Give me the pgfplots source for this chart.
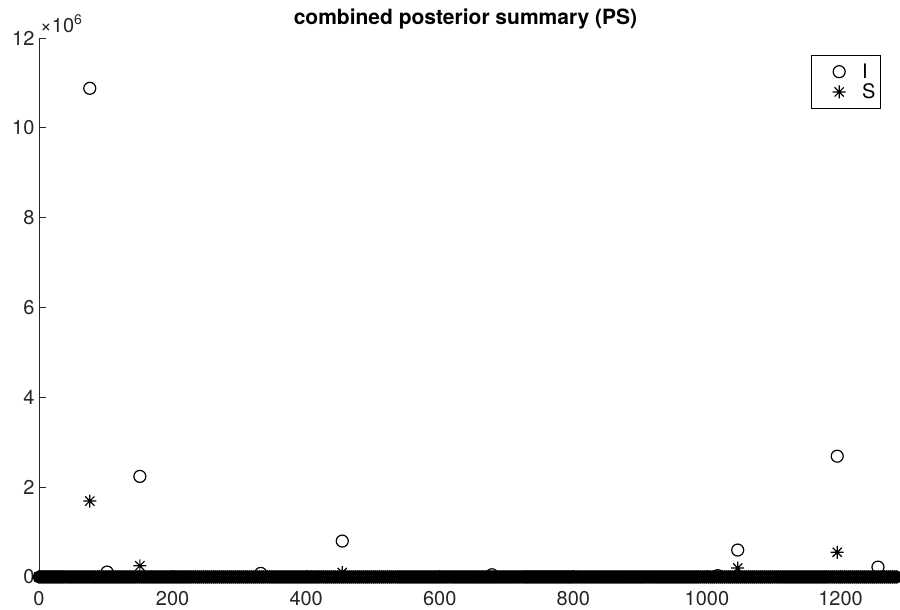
\documentclass[border=0pt]{standalone}
\usepackage{fontspec}
\setmainfont{TeX Gyre Heros}
\usepackage{pgfplots}
\usepackage{pgfplotstable}
\pgfplotsset{compat=1.18}
\definecolor{axgray}{rgb}{0.15,0.15,0.15}
\pgfdeclareplotmark{matast}{%
 \pgfpathmoveto{\pgfqpoint{-\pgfplotmarksize}{0pt}}\pgfpathlineto{\pgfqpoint{\pgfplotmarksize}{0pt}}%
 \pgfpathmoveto{\pgfqpoint{0pt}{-\pgfplotmarksize}}\pgfpathlineto{\pgfqpoint{0pt}{\pgfplotmarksize}}%
 \pgfpathmoveto{\pgfqpoint{-0.7071\pgfplotmarksize}{-0.7071\pgfplotmarksize}}\pgfpathlineto{\pgfqpoint{0.7071\pgfplotmarksize}{0.7071\pgfplotmarksize}}%
 \pgfpathmoveto{\pgfqpoint{-0.7071\pgfplotmarksize}{0.7071\pgfplotmarksize}}\pgfpathlineto{\pgfqpoint{0.7071\pgfplotmarksize}{-0.7071\pgfplotmarksize}}%
 \pgfusepathqstroke}
% near-zero values (dense band along the x axis)
\pgfplotstableread[row sep=\\]{
x y\\
0 0\\ 3 0\\ 6 0\\ 9 0\\ 12 0\\ 15 0\\ 18 0\\ 21 0\\ 24 0\\ 27 0\\ 30 0\\ 33 0\\ 36 0\\ 39 0\\ 42 0\\ 45 0\\ 48 0\\ 51 0\\ 54 0\\ 57 0\\
60 0\\ 63 0\\ 66 0\\ 69 0\\ 72 0\\ 75 0\\ 78 0\\ 81 0\\ 84 0\\ 87 0\\ 90 0\\ 93 0\\ 96 0\\ 99 0\\ 102 0\\ 105 0\\ 108 0\\ 111 0\\ 114 0\\ 117 0\\
120 0\\ 123 0\\ 126 0\\ 129 0\\ 132 0\\ 135 0\\ 138 0\\ 141 0\\ 144 0\\ 147 0\\ 150 0\\ 153 0\\ 156 0\\ 159 0\\ 162 0\\ 165 0\\ 168 0\\ 171 0\\ 174 0\\ 177 0\\
180 0\\ 183 0\\ 186 0\\ 189 0\\ 192 0\\ 195 0\\ 198 0\\ 201 0\\ 204 0\\ 207 0\\ 210 0\\ 213 0\\ 216 0\\ 219 0\\ 222 0\\ 225 0\\ 228 0\\ 231 0\\ 234 0\\ 237 0\\
240 0\\ 243 0\\ 246 0\\ 249 0\\ 252 0\\ 255 0\\ 258 0\\ 261 0\\ 264 0\\ 267 0\\ 270 0\\ 273 0\\ 276 0\\ 279 0\\ 282 0\\ 285 0\\ 288 0\\ 291 0\\ 294 0\\ 297 0\\
300 0\\ 303 0\\ 306 0\\ 309 0\\ 312 0\\ 315 0\\ 318 0\\ 321 0\\ 324 0\\ 327 0\\ 330 0\\ 333 0\\ 336 0\\ 339 0\\ 342 0\\ 345 0\\ 348 0\\ 351 0\\ 354 0\\ 357 0\\
360 0\\ 363 0\\ 366 0\\ 369 0\\ 372 0\\ 375 0\\ 378 0\\ 381 0\\ 384 0\\ 387 0\\ 390 0\\ 393 0\\ 396 0\\ 399 0\\ 402 0\\ 405 0\\ 408 0\\ 411 0\\ 414 0\\ 417 0\\
420 0\\ 423 0\\ 426 0\\ 429 0\\ 432 0\\ 435 0\\ 438 0\\ 441 0\\ 444 0\\ 447 0\\ 450 0\\ 453 0\\ 456 0\\ 459 0\\ 462 0\\ 465 0\\ 468 0\\ 471 0\\ 474 0\\ 477 0\\
480 0\\ 483 0\\ 486 0\\ 489 0\\ 492 0\\ 495 0\\ 498 0\\ 501 0\\ 504 0\\ 507 0\\ 510 0\\ 513 0\\ 516 0\\ 519 0\\ 522 0\\ 525 0\\ 528 0\\ 531 0\\ 534 0\\ 537 0\\
540 0\\ 543 0\\ 546 0\\ 549 0\\ 552 0\\ 555 0\\ 558 0\\ 561 0\\ 564 0\\ 567 0\\ 570 0\\ 573 0\\ 576 0\\ 579 0\\ 582 0\\ 585 0\\ 588 0\\ 591 0\\ 594 0\\ 597 0\\
600 0\\ 603 0\\ 606 0\\ 609 0\\ 612 0\\ 615 0\\ 618 0\\ 621 0\\ 624 0\\ 627 0\\ 630 0\\ 633 0\\ 636 0\\ 639 0\\ 642 0\\ 645 0\\ 648 0\\ 651 0\\ 654 0\\ 657 0\\
660 0\\ 663 0\\ 666 0\\ 669 0\\ 672 0\\ 675 0\\ 678 0\\ 681 0\\ 684 0\\ 687 0\\ 690 0\\ 693 0\\ 696 0\\ 699 0\\ 702 0\\ 705 0\\ 708 0\\ 711 0\\ 714 0\\ 717 0\\
720 0\\ 723 0\\ 726 0\\ 729 0\\ 732 0\\ 735 0\\ 738 0\\ 741 0\\ 744 0\\ 747 0\\ 750 0\\ 753 0\\ 756 0\\ 759 0\\ 762 0\\ 765 0\\ 768 0\\ 771 0\\ 774 0\\ 777 0\\
780 0\\ 783 0\\ 786 0\\ 789 0\\ 792 0\\ 795 0\\ 798 0\\ 801 0\\ 804 0\\ 807 0\\ 810 0\\ 813 0\\ 816 0\\ 819 0\\ 822 0\\ 825 0\\ 828 0\\ 831 0\\ 834 0\\ 837 0\\
840 0\\ 843 0\\ 846 0\\ 849 0\\ 852 0\\ 855 0\\ 858 0\\ 861 0\\ 864 0\\ 867 0\\ 870 0\\ 873 0\\ 876 0\\ 879 0\\ 882 0\\ 885 0\\ 888 0\\ 891 0\\ 894 0\\ 897 0\\
900 0\\ 903 0\\ 906 0\\ 909 0\\ 912 0\\ 915 0\\ 918 0\\ 921 0\\ 924 0\\ 927 0\\ 930 0\\ 933 0\\ 936 0\\ 939 0\\ 942 0\\ 945 0\\ 948 0\\ 951 0\\ 954 0\\ 957 0\\
960 0\\ 963 0\\ 966 0\\ 969 0\\ 972 0\\ 975 0\\ 978 0\\ 981 0\\ 984 0\\ 987 0\\ 990 0\\ 993 0\\ 996 0\\ 999 0\\ 1002 0\\ 1005 0\\ 1008 0\\ 1011 0\\ 1014 0\\ 1017 0\\
1020 0\\ 1023 0\\ 1026 0\\ 1029 0\\ 1032 0\\ 1035 0\\ 1038 0\\ 1041 0\\ 1044 0\\ 1047 0\\ 1050 0\\ 1053 0\\ 1056 0\\ 1059 0\\ 1062 0\\ 1065 0\\ 1068 0\\ 1071 0\\ 1074 0\\ 1077 0\\
1080 0\\ 1083 0\\ 1086 0\\ 1089 0\\ 1092 0\\ 1095 0\\ 1098 0\\ 1101 0\\ 1104 0\\ 1107 0\\ 1110 0\\ 1113 0\\ 1116 0\\ 1119 0\\ 1122 0\\ 1125 0\\ 1128 0\\ 1131 0\\ 1134 0\\ 1137 0\\
1140 0\\ 1143 0\\ 1146 0\\ 1149 0\\ 1152 0\\ 1155 0\\ 1158 0\\ 1161 0\\ 1164 0\\ 1167 0\\ 1170 0\\ 1173 0\\ 1176 0\\ 1179 0\\ 1182 0\\ 1185 0\\ 1188 0\\ 1191 0\\ 1194 0\\ 1197 0\\
1200 0\\ 1203 0\\ 1206 0\\ 1209 0\\ 1212 0\\ 1215 0\\ 1218 0\\ 1221 0\\ 1224 0\\ 1227 0\\ 1230 0\\ 1233 0\\ 1236 0\\ 1239 0\\ 1242 0\\ 1245 0\\ 1248 0\\ 1251 0\\ 1254 0\\ 1257 0\\
1260 0\\ 1263 0\\ 1266 0\\ 1269 0\\ 1272 0\\ 1275 0\\ 1278 0\\ 1281 0\\ 1284 0\\
}\zeroband
\pgfplotstableread[row sep=\\]{
x y\\
76 10880000\\
102 110000\\
151 2240000\\
332 80000\\
454 800000\\
678 50000\\
1016 30000\\
1046 600000\\
1195 2690000\\
1256 220000\\
}\seriesI
\pgfplotstableread[row sep=\\]{
x y\\
76 1690000\\
151 250000\\
454 100000\\
1046 200000\\
1195 550000\\
}\seriesS
\begin{document}
\begin{tikzpicture}
\begin{axis}[
  name=ax,
  scale only axis,
  width=853pt, height=539pt,
  xmin=0, xmax=1277, ymin=0, ymax=12000000,
  clip=false,
  axis x line*=bottom, axis y line*=left,
  axis line style={axgray, line width=0.8pt},
  every tick/.style={axgray, line width=0.8pt},
  tick align=inside,
  major tick length=7pt,
  xtick={0,200,400,600,800,1000,1200},
  ytick={0,2000000,4000000,6000000,8000000,10000000,12000000},
  scaled y ticks=base 10:-6,
  ytick scale label code/.code={×10\textsuperscript{#1}},
  every y tick scale label/.style={at={(rel axis cs:0,1)}, anchor=south west, inner sep=0pt, yshift=5pt, xshift=2pt, font=\fontsize{20}{24}\selectfont, text=axgray},
  /pgf/number format/assume math mode=true,
  /pgf/number format/1000 sep={},
  tick label style={font=\fontsize{20}{24}\selectfont, text=axgray},
  xticklabel style={yshift=-11pt},
  yticklabel style={xshift=-1pt},
  title={combined posterior summary (PS)},
  title style={font=\bfseries\fontsize{21}{24}\selectfont, at={(0.5,1)}, anchor=base, yshift=7pt},
  legend image code/.code={\draw[#1] plot coordinates {(25pt,0pt)}; \path[draw=none, fill=none] (0pt,-5pt) rectangle (46pt,5pt);},
  legend style={at={(0.987,0.968)}, anchor=north east, draw=black, line width=0.8pt,
    font=\fontsize{20}{24}\selectfont, inner xsep=3pt, inner ysep=6pt, row sep=0pt},
  legend cell align=left,
]
\addplot[only marks, mark=o, mark size=5.5pt, line width=2pt, black, forget plot] table {\zeroband};
\addplot[only marks, mark=matast, mark size=6.5pt, line width=1.6pt, black, forget plot] table {\zeroband};
\addplot[only marks, mark=o, mark size=6pt, line width=1.2pt, black] table {\seriesI};
\addlegendentry{I}
\addplot[only marks, mark=matast, mark size=6.5pt, line width=1.2pt, black] table {\seriesS};
\addlegendentry{S}
\end{axis}
\pgfresetboundingbox
\path (ax.south west) ++(-39pt,-33pt) rectangle ++(900pt,610pt);
\end{tikzpicture}
\end{document}
